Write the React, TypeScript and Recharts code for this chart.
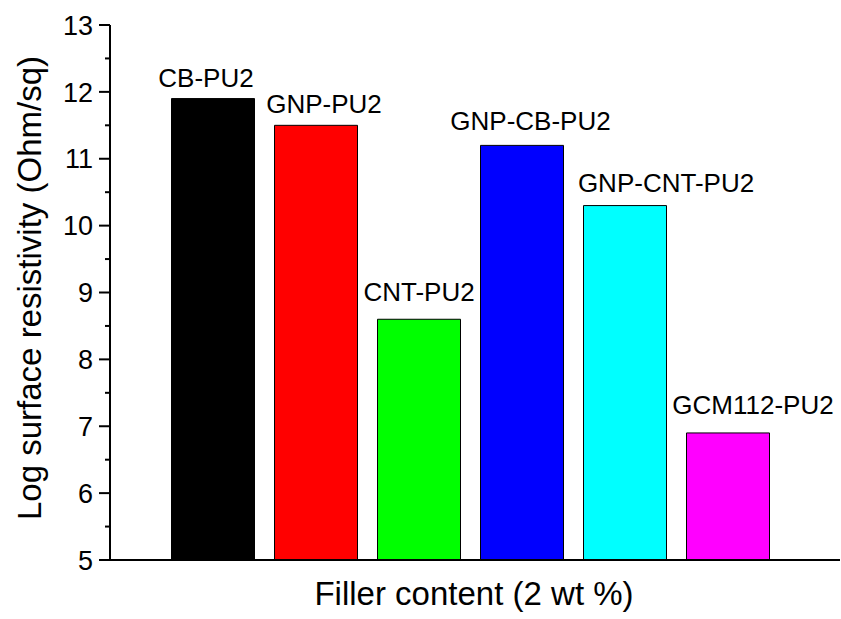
import React from 'react';
import { BarChart, Bar, Cell, XAxis, YAxis, LabelList } from 'recharts';

const CATEGORIES = ['CB-PU2', 'GNP-PU2', 'CNT-PU2', 'GNP-CB-PU2', 'GNP-CNT-PU2', 'GCM112-PU2'];
const LOG_RESISTIVITY = [11.9, 11.5, 8.6, 11.2, 10.3, 6.9];
const Y_TICKS = [5, 5.5, 6, 6.5, 7, 7.5, 8, 8.5, 9, 9.5, 10, 10.5, 11, 11.5, 12, 12.5, 13];

const BAR_COLORS = ['#000000', '#ff0000', '#00ff00', '#0000ff', '#00ffff', '#ff00ff'];
// hand-placed labels in the original, nudged relative to the bar centre / top
const LABEL_DX = [-7, 8, 0, 8.5, 41, 25];
const LABEL_GAP = [12, 12.7, 18, 15.7, 14, 19];

const FONT = '"Liberation Sans", Arial, Helvetica, sans-serif';
const WIDTH = 841;
const HEIGHT = 619;
const AXIS_X = 110;

const data = CATEGORIES.map((name, i) => ({ name, value: LOG_RESISTIVITY[i] }));

const YTick = (props: any) => {
  const { y, payload } = props;
  const major = Number.isInteger(payload.value);
  return (
    <g>
      <line x1={AXIS_X - (major ? 11 : 5)} x2={AXIS_X} y1={y} y2={y} stroke="#000" strokeWidth={2} />
      {major && (
        <text x={AXIS_X - 17} y={y} dy="0.36em" textAnchor="end" fontSize={27} fontFamily={FONT} fill="#000">
          {payload.value}
        </text>
      )}
    </g>
  );
};

const BarLabel = (props: any) => {
  const { x, y, width, value, index } = props;
  return (
    <text
      x={Number(x) + Number(width) / 2 + LABEL_DX[index]}
      y={Number(y) - LABEL_GAP[index]}
      textAnchor="middle"
      fontSize={26}
      fontFamily={FONT}
      fill="#000"
    >
      {value}
    </text>
  );
};

export default function App() {
  return (
    <div style={{ position: 'absolute', left: 0, top: 0, width: WIDTH, height: HEIGHT, background: '#fff' }}>
      <BarChart width={WIDTH} height={HEIGHT} data={data} margin={{ top: 25, right: 1, bottom: 0, left: 0 }}>
        <XAxis
          dataKey="name"
          height={59}
          padding={{ left: 51.5, right: 60.5 }}
          tick={false}
          tickLine={false}
          axisLine={{ stroke: '#000', strokeWidth: 2 }}
          label={{
            content: () => (
              <text x={474} y={605} textAnchor="middle" fontSize={33} fontFamily={FONT} fill="#000">
                Filler content (2 wt %)
              </text>
            ),
          }}
        />
        <XAxis
          xAxisId="top"
          dataKey="name"
          orientation="top"
          height={0}
          tick={false}
          tickLine={false}
          axisLine={{ stroke: '#8a8a8a', strokeWidth: 1 }}
        />
        <YAxis
          domain={[5, 13]}
          ticks={Y_TICKS}
          width={AXIS_X}
          interval={0}
          allowDataOverflow
          tick={<YTick />}
          tickLine={false}
          axisLine={{ stroke: '#000', strokeWidth: 2 }}
          label={{
            content: () => (
              <text
                x={41}
                y={288}
                transform="rotate(-90 41 288)"
                textAnchor="middle"
                fontSize={33}
                fontFamily={FONT}
                fill="#000"
              >
                Log surface resistivity (Ohm/sq)
              </text>
            ),
          }}
        />
        <YAxis
          yAxisId="right"
          orientation="right"
          domain={[5, 13]}
          width={0}
          tick={false}
          tickLine={false}
          axisLine={{ stroke: '#444', strokeWidth: 2 }}
        />
        <Bar dataKey="value" barSize={83} stroke="#000" strokeWidth={1} isAnimationActive={false}>
          {data.map((entry, i) => (
            <Cell key={`cell-${entry.name}`} fill={BAR_COLORS[i]} />
          ))}
          <LabelList dataKey="name" content={<BarLabel />} />
        </Bar>
      </BarChart>
    </div>
  );
}
